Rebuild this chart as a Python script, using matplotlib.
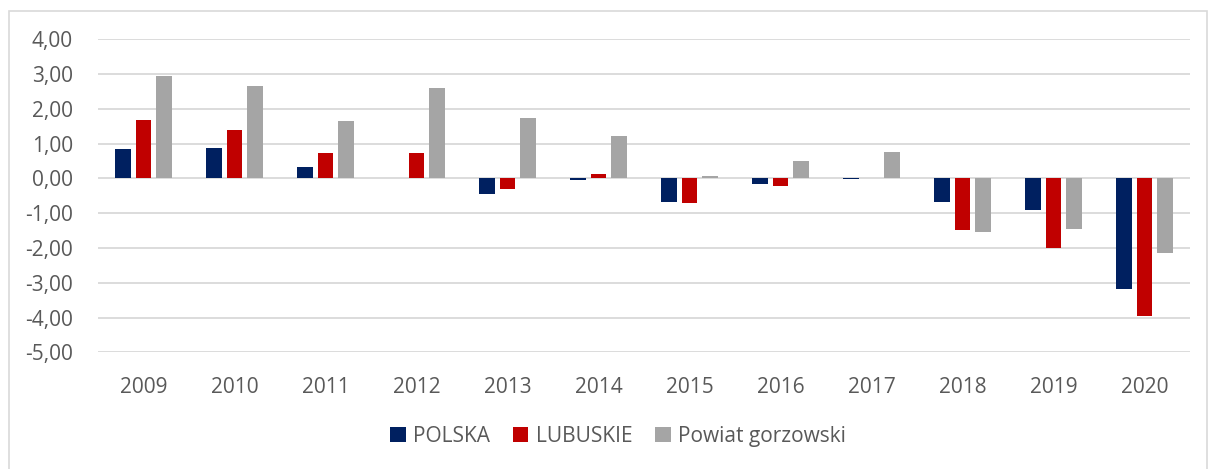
import matplotlib
matplotlib.use('Agg')
import matplotlib.pyplot as plt
from matplotlib.patches import Rectangle, Patch
import numpy as np

years = ['2009', '2010', '2011', '2012', '2013', '2014',
         '2015', '2016', '2017', '2018', '2019', '2020']
polska = [0.84, 0.88, 0.33, 0.02, -0.46, -0.04, -0.67, -0.15, -0.03, -0.68, -0.91, -3.18]
lubuskie = [1.68, 1.40, 0.74, 0.72, -0.30, 0.14, -0.72, -0.21, 0.0, -1.48, -2.01, -3.95]
powiat = [2.94, 2.65, 1.66, 2.59, 1.74, 1.21, 0.08, 0.49, 0.77, -1.55, -1.46, -2.14]
series_names = ['POLSKA', 'LUBUSKIE', 'Powiat gorzowski']
colors = ['#002060', '#C00000', '#A5A5A5']
yticks = [4, 3, 2, 1, 0, -1, -2, -3, -4, -5]

plt.rcParams['font.family'] = ['Open Sans', 'DejaVu Sans']
text_color = '#595959'

W, H = 1215, 469
fig = plt.figure(figsize=(W / 100, H / 100), dpi=100)
ax = fig.add_axes([98 / W, 1 - 352.3 / H, (1190 - 98) / W, (352.3 - 39.3) / H])

# outer chart frame (bottom runs off the picture)
fig.patches.append(Rectangle((9 / W, -0.05), (1207 - 9) / W, 1.05 - 11 / H,
                             transform=fig.transFigure, fill=False,
                             edgecolor='#D9D9D9', linewidth=1.2))

x = np.arange(len(years))
step = 0.223
for i, (vals, c) in enumerate(zip([polska, lubuskie, powiat], colors)):
    ax.bar(x + (i - 1) * step, vals, width=0.175, color=c,
           edgecolor='none', zorder=3)

ax.set_xlim(-0.5, len(years) - 0.5)
ax.set_ylim(-5, 4)
ax.set_yticks(yticks)
ax.set_yticklabels([f'{v:.2f}'.replace('.', ',') for v in yticks])
ax.set_xticks(x)
ax.set_xticklabels(years)
ax.tick_params(length=0, labelsize=15, labelcolor=text_color)
ax.tick_params(axis='y', pad=18)
ax.tick_params(axis='x', pad=18)
ax.grid(axis='y', color='#D9D9D9', linewidth=1.3, zorder=0)
for s in ax.spines.values():
    s.set_visible(False)

handles = [Patch(facecolor=c, edgecolor='none') for c in colors]
fig.legend(handles, series_names, loc='center', bbox_to_anchor=(618 / W, 1 - 436 / H),
           ncol=3, frameon=False, fontsize=15, labelcolor=text_color,
           handlelength=0.75, handleheight=0.75, handletextpad=0.35, columnspacing=1.1)

fig.savefig('out.png', dpi=100)
